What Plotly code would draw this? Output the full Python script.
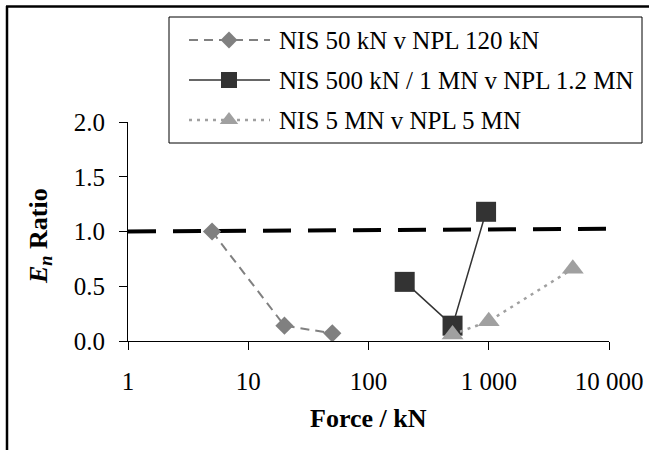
import plotly.graph_objects as go

# ---- data ----
s1_name = "NIS 50 kN v NPL 120 kN"
s1_x = [5, 20, 50]
s1_y = [1.00, 0.14, 0.07]

s2_name = "NIS 500 kN / 1 MN v NPL 1.2 MN"
s2_x = [200, 500, 950]
s2_y = [0.54, 0.14, 1.18]

s3_name = "NIS 5 MN v NPL 5 MN"
s3_x = [500, 1000, 5000]
s3_y = [0.06, 0.18, 0.66]

ref_x = [1, 10000]
ref_y = [1.00, 1.025]

x_tickvals = [1, 10, 100, 1000, 10000]
x_ticktext = ["1", "10", "100", "1 000", "10 000"]
y_tickvals = [0.0, 0.5, 1.0, 1.5, 2.0]
y_ticktext = ["0.0", "0.5", "1.0", "1.5", "2.0"]

x_title = "<b>Force / kN</b>"
y_title = "<b><i>E<sub>n</sub></i> Ratio</b>"

FONT = "Liberation Serif"
W, H = 649, 450

def fx(p):  # pixel -> paper x
    return p / W

def fy(p):  # pixel -> paper y
    return (H - p) / H

styles = [
    dict(name=s1_name, x=s1_x, y=s1_y,
         line=dict(color="#808080", width=2, dash="9px,6px"),
         marker=dict(symbol="diamond", size=14, color="#808080"),
         lmarker=dict(symbol="diamond", size=13, color="#808080")),
    dict(name=s2_name, x=s2_x, y=s2_y,
         line=dict(color="#333333", width=1.5),
         marker=dict(symbol="square", size=20, color="#333333"),
         lmarker=dict(symbol="square", size=16, color="#333333")),
    dict(name=s3_name, x=s3_x, y=s3_y,
         line=dict(color="#a0a0a0", width=2.5, dash="3px,5px"),
         marker=dict(symbol="triangle-up", size=19, color="#a0a0a0"),
         lmarker=dict(symbol="triangle-up", size=16, color="#a0a0a0")),
]

fig = go.Figure()

fig.add_trace(go.Scatter(
    x=ref_x, y=ref_y, mode="lines", showlegend=False,
    line=dict(color="black", width=4, dash="28px,17px"),
    hoverinfo="skip"))

for s in styles:
    fig.add_trace(go.Scatter(
        x=s["x"], y=s["y"], name=s["name"], mode="lines+markers",
        line=s["line"], marker=s["marker"], showlegend=False))

# ---- custom legend (samples drawn on a hidden helper axis) ----
leg_left, leg_right, leg_top, leg_bot = 169, 642, 17, 143
row_px = [40, 80, 120]
samp_x0, samp_x1, samp_xm, text_x = 189, 270, 229, 277
lw = leg_right - leg_left
lh = leg_bot - leg_top
annotations = []
for s, r in zip(styles, row_px):
    ry = (leg_bot - r) / lh
    fig.add_trace(go.Scatter(
        x=[(samp_x0 - leg_left) / lw, (samp_x1 - leg_left) / lw], y=[ry, ry],
        mode="lines", line=s["line"], xaxis="x2", yaxis="y2",
        showlegend=False, hoverinfo="skip"))
    fig.add_trace(go.Scatter(
        x=[(samp_xm - leg_left) / lw], y=[ry],
        mode="markers", marker=s["lmarker"], xaxis="x2", yaxis="y2",
        showlegend=False, hoverinfo="skip"))
    annotations.append(dict(
        text=s["name"], xref="paper", yref="paper", x=fx(text_x), y=fy(r),
        xanchor="left", yanchor="middle", showarrow=False,
        font=dict(family=FONT, size=25, color="black")))

annotations.append(dict(
    text=x_title, xref="paper", yref="paper", x=fx(368), y=fy(418),
    xanchor="center", yanchor="middle", showarrow=False,
    font=dict(family=FONT, size=26, color="black")))
annotations.append(dict(
    text=y_title, xref="paper", yref="paper", x=fx(40), y=fy(236),
    xanchor="center", yanchor="middle", showarrow=False, textangle=-90,
    font=dict(family=FONT, size=26, color="black")))

L, Rr, T, B = 128, 609, 122, 341

fig.update_layout(
    width=W, height=H,
    margin=dict(l=0, r=0, t=0, b=0),
    paper_bgcolor="white", plot_bgcolor="rgba(0,0,0,0)",
    font=dict(family=FONT, size=25, color="black"),
    showlegend=False,
    xaxis=dict(
        domain=[fx(L), fx(Rr)], anchor="y",
        type="log", range=[0, 4], automargin=False,
        tickvals=x_tickvals, ticktext=x_ticktext,
        showgrid=False, zeroline=False,
        showline=True, linecolor="black", linewidth=1,
        ticks="outside", ticklen=8, tickcolor="black", tickwidth=1,
        ticklabelstandoff=10,
        tickfont=dict(family=FONT, size=25),
    ),
    yaxis=dict(
        domain=[fy(B), fy(T)], anchor="x",
        range=[0, 2], automargin=False,
        tickvals=y_tickvals, ticktext=y_ticktext,
        showgrid=False, zeroline=False,
        showline=True, linecolor="black", linewidth=1,
        ticks="outside", ticklen=8, tickcolor="black", tickwidth=1,
        ticklabelstandoff=9,
        tickfont=dict(family=FONT, size=25),
    ),
    xaxis2=dict(domain=[fx(leg_left), fx(leg_right)], anchor="y2", range=[0, 1],
                visible=False, fixedrange=True),
    yaxis2=dict(domain=[fy(leg_bot), fy(leg_top)], anchor="x2", range=[0, 1],
                visible=False, fixedrange=True),
    shapes=[
        dict(type="rect", xref="paper", yref="paper", layer="below",
             x0=fx(leg_left), x1=fx(leg_right), y0=fy(leg_bot), y1=fy(leg_top),
             fillcolor="white", line=dict(color="black", width=1)),
        dict(type="line", xref="paper", yref="paper",
             x0=fx(7), x1=fx(7), y0=fy(6), y1=fy(470),
             line=dict(color="black", width=2.5)),
        dict(type="line", xref="paper", yref="paper",
             x0=fx(6), x1=fx(670), y0=fy(6.5), y1=fy(6.5),
             line=dict(color="black", width=2.5)),
    ],
    annotations=annotations,
)

fig.write_html("out.html")
